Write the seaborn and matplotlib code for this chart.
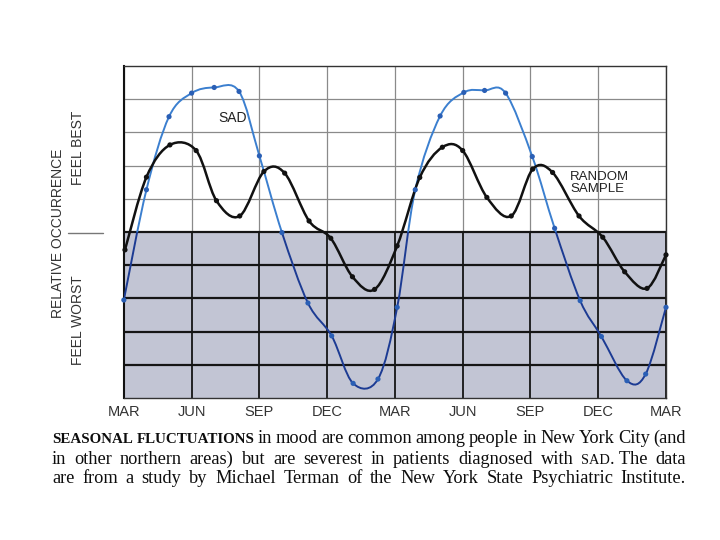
import numpy as np
import pandas as pd
import seaborn as sns
import matplotlib.pyplot as plt
from matplotlib.path import Path
from matplotlib.patches import PathPatch, Rectangle
from matplotlib.lines import Line2D

# months counted from the first MAR (0) to the last MAR (24)
sad_month = [0.0, 1.0, 2.0, 3.0, 4.0, 5.1, 6.0, 7.0, 8.15, 9.2, 10.15, 11.25,
             12.1, 12.9, 14.0, 15.05, 15.97, 16.9, 18.08, 19.07, 20.2, 21.14, 22.27, 23.1, 24.0]
sad_value = [2.95, 6.27, 8.47, 9.18, 9.35, 9.23, 7.29, 4.98, 2.86, 1.87, 0.44, 0.57,
             2.73, 6.27, 8.49, 9.2, 9.26, 9.18, 7.27, 5.11, 2.93, 1.85, 0.52, 0.72, 2.73]

rand_month = [0.05, 1.0, 2.04, 3.2, 4.1, 5.13, 6.2, 7.12, 8.2, 9.16, 10.12, 11.1,
              12.1, 13.1, 14.1, 15.0, 16.07, 17.15, 18.1, 18.98, 20.15, 21.2, 22.17, 23.16, 24.0]
rand_value = [4.46, 6.65, 7.62, 7.45, 5.94, 5.48, 6.82, 6.77, 5.33, 4.81, 3.65, 3.27,
              4.58, 6.64, 7.55, 7.45, 6.04, 5.48, 6.89, 6.79, 5.48, 4.84, 3.80, 3.30, 4.31]

tick_months = [0, 3, 6, 9, 12, 15, 18, 21, 24]
tick_labels = ['MAR', 'JUN', 'SEP', 'DEC', 'MAR', 'JUN', 'SEP', 'DEC', 'MAR']

# caption words: (text, style) where style is 'b' bold caps, 'r' regular, 's' small caps
caption_rows = [
    [('SEASONAL', 'b'), ('FLUCTUATIONS', 'b'), ('in', 'r'), ('mood', 'r'), ('are', 'r'),
     ('common', 'r'), ('among', 'r'), ('people', 'r'), ('in', 'r'), ('New', 'r'), ('York', 'r'),
     ('City', 'r'), ('(and', 'r')],
    [('in', 'r'), ('other', 'r'), ('northern', 'r'), ('areas)', 'r'), ('but', 'r'), ('are', 'r'),
     ('severest', 'r'), ('in', 'r'), ('patients', 'r'), ('diagnosed', 'r'), ('with', 'r'),
     ('SAD', 's'), ('. The', 'r'), ('data', 'r')],
    [('are', 'r'), ('from', 'r'), ('a', 'r'), ('study', 'r'), ('by', 'r'), ('Michael', 'r'),
     ('Terman', 'r'), ('of', 'r'), ('the', 'r'), ('New', 'r'), ('York', 'r'), ('State', 'r'),
     ('Psychiatric', 'r'), ('Institute.', 'r')],
]

df = pd.concat([
    pd.DataFrame({'month': sad_month, 'value': sad_value, 'group': 'SAD'}),
    pd.DataFrame({'month': rand_month, 'value': rand_value, 'group': 'RANDOM SAMPLE'}),
])


def smooth_path(xs, ys):
    # Catmull-Rom curve through the points, as cubic Bezier segments
    p = np.column_stack([xs, ys])
    p = np.vstack([p[0], p, p[-1]])
    verts = [p[1]]
    codes = [Path.MOVETO]
    for i in range(1, len(p) - 2):
        c1 = p[i] + (p[i + 1] - p[i - 1]) / 6
        c2 = p[i + 1] - (p[i + 2] - p[i]) / 6
        verts += [c1, c2, p[i + 1]]
        codes += [Path.CURVE4] * 3
    return Path(verts, codes)


sns.set_style('white')
plt.rcParams['font.family'] = ['Liberation Sans', 'DejaVu Sans']

fig = plt.figure(figsize=(7.2, 5.4), dpi=100)
ax = fig.add_axes([0.172, 0.263, 0.753, 0.615])
ax.set_xlim(0, 24)
ax.set_ylim(0, 10)

# shaded "feel worst" half
ax.axhspan(0, 5, color='#c2c5d4', zorder=0)

for m in tick_months:
    ax.vlines(m, 5, 10, color='#8a8a8a', lw=0.9, zorder=1)
    ax.vlines(m, 0, 5, color='#151515', lw=1.3, zorder=1)
for lvl in range(1, 10):
    if lvl > 5:
        ax.axhline(lvl, color='#8a8a8a', lw=0.9, zorder=1)
    else:
        ax.axhline(lvl, color='#151515', lw=1.6, zorder=1)

# curves
light = Rectangle((0, 5), 24, 6, transform=ax.transData)
dark = Rectangle((0, -1), 24, 6, transform=ax.transData)
for color, clip in [('#3b7fcf', light), ('#1c3b93', dark)]:
    patch = PathPatch(smooth_path(sad_month, sad_value), fill=False, ec=color, lw=1.4, zorder=3)
    ax.add_patch(patch)
    patch.set_clip_path(clip)
ax.add_patch(PathPatch(smooth_path(rand_month, rand_value), fill=False, ec='#111111',
                       lw=1.8, zorder=4, clip_on=False))

sns.scatterplot(data=df, x='month', y='value', hue='group',
                palette={'SAD': '#2a5fb5', 'RANDOM SAMPLE': '#111111'},
                s=14, edgecolor='none', legend=False, zorder=5, clip_on=False, ax=ax)

ax.text(4.82, 8.43, 'SAD', fontsize=10, color='#222222', ha='center', va='center')
ax.text(19.75, 6.48, 'RANDOM\nSAMPLE', fontsize=9.5, color='#222222', ha='left', va='center',
        linespacing=1.0)

ax.set_xticks(tick_months)
ax.set_xticklabels(tick_labels, fontsize=10.5, color='#333333')
ax.set_yticks(range(1, 10))
ax.set_yticklabels([])
ax.tick_params(axis='y', length=3, width=0.8, color='#555555', direction='out')
ax.tick_params(axis='x', length=0, pad=5)
ax.set_xlabel('')
ax.set_ylabel('')
for side, sp in ax.spines.items():
    sp.set_color('#333333')
    sp.set_linewidth(1.0)
ax.spines['left'].set_color('#111111')
ax.spines['left'].set_linewidth(1.5)

fig.text(0.081, 0.568, 'RELATIVE OCCURRENCE', rotation=90, fontsize=10, color='#333333',
         ha='center', va='center')
fig.text(0.108, 0.726, 'FEEL BEST', rotation=90, fontsize=10, color='#333333',
         ha='center', va='center')
fig.text(0.108, 0.407, 'FEEL WORST', rotation=90, fontsize=10, color='#333333',
         ha='center', va='center')
fig.add_artist(Line2D([0.094, 0.143], [0.569, 0.569], color='#777777', lw=1.0))

# caption, justified word by word between x=52 and x=686 px
serif = ['Liberation Serif', 'DejaVu Serif']
styles = {'b': dict(fontsize=10.8, weight='bold'),
          'r': dict(fontsize=13.2),
          's': dict(fontsize=10.4)}
row_y = [0.179, 0.140, 0.105]
x_left, x_right = 52, 686
fig.canvas.draw()
renderer = fig.canvas.get_renderer()
W = fig.bbox.width
for words, y in zip(caption_rows, row_y):
    items = []
    for word, st in words:
        t = fig.text(0, y, word, family=serif, ha='left', va='baseline', color='#0d0d0d',
                     **styles[st])
        items.append(t)
    widths = [t.get_window_extent(renderer).width for t in items]
    # no gap before the period that follows the small-caps word
    joins = [w[0].startswith('.') for w in words]
    n_gaps = sum(1 for j in joins[1:] if not j)
    gap = (x_right - x_left - sum(widths)) / n_gaps
    x = x_left
    for i, (t, w) in enumerate(zip(items, widths)):
        if i > 0 and not joins[i]:
            x += gap
        t.set_x(x / W)
        x += w

fig.savefig('out.png', dpi=100, facecolor='white')
